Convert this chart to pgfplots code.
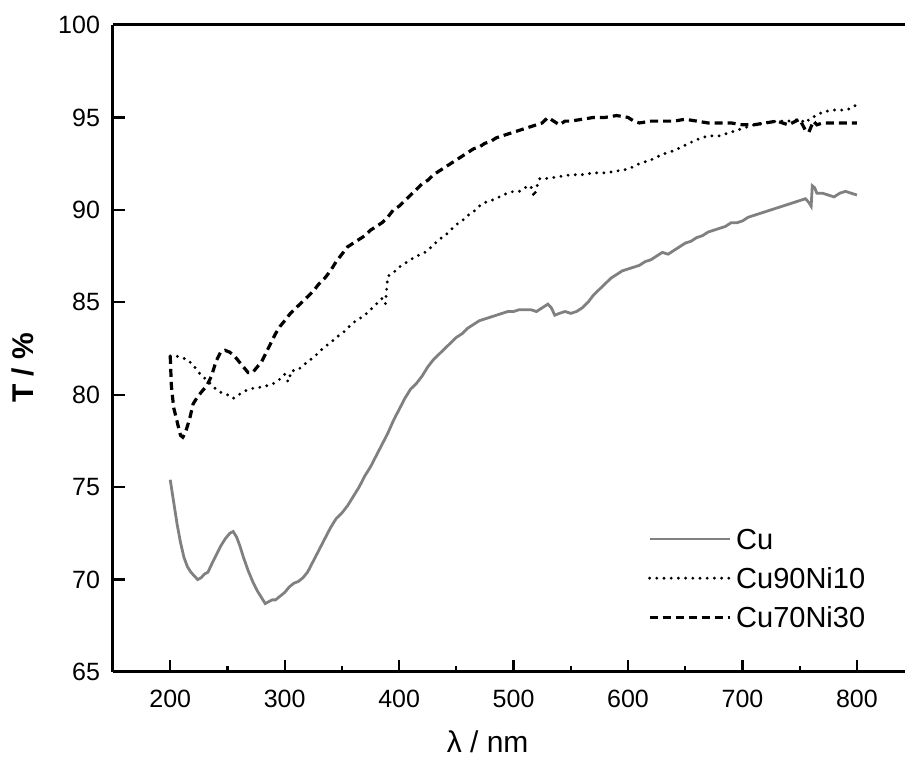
\documentclass[border=0pt]{standalone}
\usepackage{pgfplots}
\pgfplotsset{compat=1.18}
\usepackage{fontspec}
\setmainfont{Liberation Sans}
\begin{document}
\begin{tikzpicture}
\begin{axis}[
 scale only axis, width=396pt, height=323.5pt,
 xmin=150, xmax=842, ymin=65, ymax=100,
 separate axis lines,
 axis x line*=box, axis y line*=left,
 axis line style={line width=1.5pt, -},
 xtick={200,300,...,800}, minor xtick={250,350,...,750},
 ytick={65,70,...,100},
 xtick pos=bottom, ytick pos=left, tick align=inside,
 major tick length=6pt, minor tick length=3pt,
 tick style={black, line width=1.1pt},
 tick label style={font=\fontsize{12.5}{14}\selectfont},
 /pgf/number format/assume math mode=true,
 yticklabel style={xshift=-3pt},
 xticklabel style={yshift=-5.5pt},
 xlabel={λ / nm}, ylabel={\textbf{T / \%}},
 every axis x label/.style={at={(axis description cs:0.473,-0.108)}, anchor=center, font=\fontsize{15}{17}\selectfont},
 every axis y label/.style={at={(axis description cs:-0.1136,0.47)}, rotate=90, anchor=center, font=\fontsize{15}{17}\selectfont},
 legend style={draw=none, fill=none, at={(axis description cs:0.675,0.2365)}, anchor=north west,
   font=\fontsize{14.5}{16}\selectfont, inner sep=0pt, row sep=0pt,
   nodes={inner ysep=4.6pt, inner xsep=2.5pt, text height=10.4pt, text depth=0pt}},
 legend cell align=left,
 legend image code/.code={\draw[#1] (0pt,0pt) -- (40pt,0pt);},
]
\addplot[color={rgb,255:red,128;green,128;blue,128}, line width=1.4pt] coordinates {
(200,75.4)(203,74.2)(206,73.0)(209,72.0)(212,71.2)(215,70.7)(218,70.4)(221,70.2)(224,70.0)(227,70.1)
(230,70.3)(233,70.4)(236,70.8)(240,71.3)(244,71.8)(248,72.2)(252,72.5)(255,72.6)(258,72.3)(261,71.8)
(264,71.2)(268,70.5)(272,69.9)(276,69.4)(280,69.0)(283,68.7)(286,68.8)(289,68.9)(292,68.9)(296,69.1)
(300,69.3)(304,69.6)(308,69.8)(312,69.9)(316,70.1)(320,70.4)(325,71.0)(330,71.6)(335,72.2)(340,72.8)
(345,73.3)(350,73.6)(355,74.0)(360,74.5)(365,75.0)(370,75.6)(375,76.1)(380,76.7)(385,77.3)(390,77.9)
(395,78.6)(400,79.2)(405,79.8)(410,80.3)(415,80.6)(420,81.0)(425,81.5)(430,81.9)(435,82.2)(440,82.5)
(445,82.8)(450,83.1)(455,83.3)(460,83.6)(465,83.8)(470,84.0)(475,84.1)(480,84.2)(485,84.3)(490,84.4)
(495,84.5)(500,84.5)(505,84.6)(510,84.6)(515,84.6)(520,84.5)(525,84.7)(530,84.9)(533,84.7)(536,84.3)
(540,84.4)(545,84.5)(550,84.4)(555,84.5)(560,84.7)(565,85.0)(570,85.4)(575,85.7)(580,86.0)(585,86.3)
(590,86.5)(595,86.7)(600,86.8)(605,86.9)(610,87.0)(615,87.2)(620,87.3)(625,87.5)(630,87.7)(635,87.6)
(640,87.8)(645,88.0)(650,88.2)(655,88.3)(660,88.5)(665,88.6)(670,88.8)(675,88.9)(680,89.0)(685,89.1)
(690,89.3)(695,89.3)(700,89.4)(705,89.6)(710,89.7)(715,89.8)(720,89.9)(725,90.0)(730,90.1)(735,90.2)
(740,90.3)(745,90.4)(750,90.5)(755,90.6)(758,90.4)(760,90.2)(761,91.3)(763,91.2)(765,90.9)(770,90.9)
(775,90.8)(780,90.7)(785,90.9)(790,91.0)(795,90.9)(800,90.8)
};
\addlegendentry{Cu}
\addplot[black, line width=1.6pt, line cap=round, dash pattern=on 0pt off 3.6pt] coordinates {
(200,82.1)(205,82.1)(210,82.0)(215,81.9)(220,81.6)(225,81.2)(230,80.9)(235,80.6)(240,80.3)(245,80.1)
(250,80.0)(255,79.8)(260,80.0)(265,80.2)(270,80.3)(275,80.4)(280,80.4)(285,80.5)(290,80.6)(295,80.8)
(300,81.1)(303,80.7)(306,81.3)(310,81.3)(315,81.5)(320,81.8)(325,82.0)(330,82.3)(335,82.6)(340,82.8)
(345,83.1)(350,83.3)(355,83.6)(360,83.9)(365,84.1)(370,84.3)(375,84.6)(380,84.9)(385,85.2)(388,84.9)
(390,86.4)(395,86.6)(400,86.9)(405,87.1)(410,87.3)(415,87.5)(420,87.6)(425,87.8)(430,88.1)(435,88.4)
(440,88.6)(445,88.9)(450,89.2)(455,89.4)(460,89.7)(465,89.9)(470,90.2)(475,90.4)(480,90.5)(485,90.6)
(490,90.8)(495,90.9)(500,91.0)(505,91.0)(510,91.2)(515,91.3)(518,90.7)(520,91.2)(523,91.7)(530,91.7)
(540,91.8)(550,91.9)(560,91.9)(570,92.0)(580,92.0)(590,92.1)(600,92.2)(610,92.5)(620,92.7)(630,93.0)
(640,93.2)(650,93.5)(660,93.8)(670,94.0)(680,94.0)(690,94.2)(700,94.4)(710,94.6)(720,94.7)(730,94.8)
(740,94.8)(750,94.9)(755,94.7)(760,95.0)(765,95.1)(770,95.3)(780,95.4)(790,95.4)(795,95.5)(800,95.7)
};
\addlegendentry{Cu90Ni10}
\addplot[black, line width=1.6pt, dash pattern=on 4pt off 2.5pt] coordinates {
(200,82.1)(201,80.5)(203,79.3)(205,78.8)(207,78.3)(209,77.8)(211,77.7)(213,77.9)(215,78.3)(217,78.7)
(220,79.5)(224,79.9)(228,80.2)(232,80.5)(236,81.0)(240,81.8)(244,82.3)(248,82.4)(252,82.3)(256,82.1)
(260,81.8)(264,81.5)(268,81.2)(272,81.2)(276,81.5)(280,81.8)(284,82.3)(288,82.8)(292,83.3)(296,83.7)
(300,84.0)(305,84.4)(310,84.7)(315,85.0)(320,85.3)(325,85.6)(330,86.0)(335,86.3)(340,86.7)(345,87.2)
(350,87.6)(355,88.0)(360,88.2)(365,88.4)(370,88.6)(375,88.9)(380,89.1)(385,89.3)(390,89.6)(395,90.0)
(400,90.2)(405,90.5)(410,90.8)(415,91.1)(420,91.4)(425,91.6)(430,91.9)(435,92.1)(440,92.3)(445,92.5)
(450,92.7)(455,92.9)(460,93.1)(465,93.3)(470,93.4)(475,93.6)(480,93.7)(485,93.9)(490,94.0)(495,94.1)
(500,94.2)(505,94.3)(510,94.4)(515,94.5)(520,94.6)(525,94.7)(530,95.0)(535,94.8)(540,94.6)(545,94.8)
(550,94.8)(560,94.9)(570,95.0)(580,95.0)(590,95.1)(600,95.0)(605,94.8)(610,94.7)(620,94.8)(630,94.8)
(640,94.8)(650,94.9)(660,94.8)(670,94.7)(680,94.7)(690,94.7)(700,94.6)(710,94.6)(720,94.7)(730,94.8)
(740,94.6)(750,94.9)(755,94.3)(758,94.2)(762,94.8)(765,94.6)(770,94.7)(780,94.7)(790,94.7)(800,94.7)
};
\addlegendentry{Cu70Ni30}
\end{axis}
\pgfresetboundingbox
\path ([xshift=-56.5pt,yshift=-45.5pt]current axis.south west) rectangle ([yshift=12.5pt]current axis.north east);
\end{tikzpicture}
\end{document}
